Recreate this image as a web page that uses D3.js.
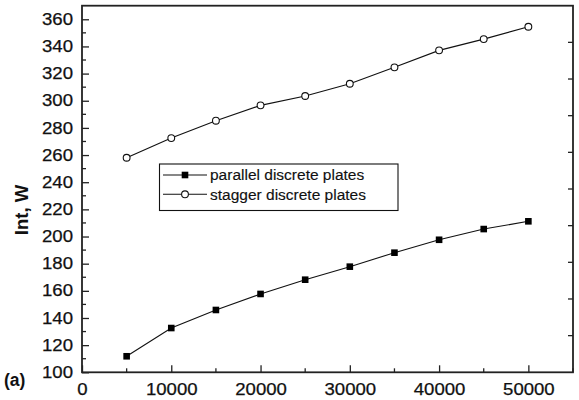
<!DOCTYPE html>
<html>
<head>
<meta charset="utf-8">
<script src="https://cdn.jsdelivr.net/npm/d3@7"></script>
<style>
  html, body { margin: 0; padding: 0; background: #fff; }
  svg { display: block; }
  text { font-family: "Liberation Sans", Arial, Helvetica, sans-serif; fill: #111; }
</style>
</head>
<body>
<svg id="chart" width="579" height="400"></svg>
<script>
// Reynolds-number sweep (x) and the two plate arrangements
const reValues = [5000, 10000, 15000, 20000, 25000, 30000, 35000, 40000, 45000, 50000];
const parallelPlates = [111.8, 132.6, 145.9, 157.7, 168.2, 177.8, 188.1, 197.6, 205.5, 211.2];
const staggerPlates  = [258.0, 272.5, 285.3, 296.6, 303.5, 312.5, 324.6, 337.1, 345.4, 354.5];
const seriesNames = ["parallel discrete plates", "stagger discrete plates"];
const xTickValues = [0, 10000, 20000, 30000, 40000, 50000];
const yTickValues = [100, 120, 140, 160, 180, 200, 220, 240, 260, 280, 300, 320, 340, 360];
const yAxisTitle = "Int, W";
const panelTag = "(a)";

const svg = d3.select("#chart");
const plotL = 82, plotR = 573, plotT = 5.7, plotB = 372.3;

const x = d3.scaleLinear().domain([0, 55000]).range([plotL, plotR]);
const y = d3.scaleLinear().domain([100, 370]).range([plotB, plotT]);

const axisColor = "#222";

// stretch tick glyphs slightly wider
function widen(sel, factor) {
  sel.each(function () {
    const w = this.getComputedTextLength();
    d3.select(this).attr("textLength", w * factor).attr("lengthAdjust", "spacingAndGlyphs");
  });
}

// bottom axis: labelled major ticks, minor ticks in between, all pointing inward
const xMinor = d3.range(5000, 55001, 10000);
const gx = svg.append("g").attr("transform", `translate(0,${plotB})`);
gx.call(d3.axisBottom(x).tickValues(xTickValues).tickSize(-7).tickPadding(11).tickFormat(d3.format("d")));
gx.selectAll(".tick text").attr("font-size", 16).attr("dy", "0.71em");
gx.selectAll(".tick text").call(widen, 1.16);
gx.append("g").selectAll("line").data(xMinor).join("line")
  .attr("x1", d => x(d)).attr("x2", d => x(d)).attr("y1", 0).attr("y2", -4)
  .attr("stroke", axisColor).attr("stroke-width", 1.3);

// left axis
const yMinor = d3.range(110, 370, 20);
const gy = svg.append("g").attr("transform", `translate(${plotL},0)`);
gy.call(d3.axisLeft(y).tickValues(yTickValues).tickSize(-7).tickPadding(9).tickFormat(d3.format("d")));
gy.selectAll(".tick text").attr("font-size", 16);
gy.selectAll(".tick text").call(widen, 1.16);
gy.append("g").selectAll("line").data(yMinor).join("line")
  .attr("x1", 0).attr("x2", 4).attr("y1", d => y(d)).attr("y2", d => y(d))
  .attr("stroke", axisColor).attr("stroke-width", 1.3);

[gx, gy].forEach(g => {
  g.select(".domain").remove();
  g.selectAll(".tick line").attr("stroke", axisColor).attr("stroke-width", 1.3);
  g.selectAll(".tick text").style("fill", "#111").attr("stroke", "#111").attr("stroke-width", 0.25);
});

// right frame ticks: ten equal divisions
const yr = d3.scaleLinear().domain([0, 10]).range([plotB, plotT]);
svg.append("g").selectAll("line").data(d3.range(1, 10)).join("line")
  .attr("x1", plotR).attr("x2", plotR - 5).attr("y1", d => yr(d)).attr("y2", d => yr(d))
  .attr("stroke", axisColor).attr("stroke-width", 1.3);

// plot frame
svg.append("rect").attr("x", plotL).attr("y", plotT)
  .attr("width", plotR - plotL).attr("height", plotB - plotT)
  .attr("fill", "none").attr("stroke", axisColor).attr("stroke-width", 1.8);

// series
const line = d3.line().x((d, i) => x(reValues[i])).y(d => y(d));
svg.append("path").datum(parallelPlates).attr("d", line)
  .attr("fill", "none").attr("stroke", "#111").attr("stroke-width", 1.1);
svg.append("path").datum(staggerPlates).attr("d", line)
  .attr("fill", "none").attr("stroke", "#111").attr("stroke-width", 1.1);

const sq = 6.6;
svg.append("g").selectAll("rect").data(parallelPlates).join("rect")
  .attr("x", (d, i) => x(reValues[i]) - sq / 2).attr("y", d => y(d) - sq / 2)
  .attr("width", sq).attr("height", sq).attr("fill", "#000");
svg.append("g").selectAll("circle").data(staggerPlates).join("circle")
  .attr("cx", (d, i) => x(reValues[i])).attr("cy", d => y(d)).attr("r", 3.4)
  .attr("fill", "#fff").attr("stroke", "#111").attr("stroke-width", 1.1);

// legend
const lg = svg.append("g");
lg.append("rect").attr("x", 159.5).attr("y", 164).attr("width", 238.5).attr("height", 46.5)
  .attr("fill", "#fff").attr("stroke", "#111").attr("stroke-width", 1.1);
const rows = [175, 194.3];
rows.forEach((ry, k) => {
  lg.append("line").attr("x1", 163).attr("x2", 207).attr("y1", ry).attr("y2", ry)
    .attr("stroke", "#111").attr("stroke-width", 1.1);
  if (k === 0) {
    lg.append("rect").attr("x", 185 - sq / 2).attr("y", ry - sq / 2).attr("width", sq).attr("height", sq).attr("fill", "#000");
  } else {
    lg.append("circle").attr("cx", 185).attr("cy", ry).attr("r", 3.4)
      .attr("fill", "#fff").attr("stroke", "#111").attr("stroke-width", 1.1);
  }
  lg.append("text").attr("x", 210).attr("y", ry).attr("dy", "0.35em")
    .attr("font-size", 15.5).attr("stroke", "#111").attr("stroke-width", 0.15).text(seriesNames[k]);
});

// axis title and panel tag
svg.append("text").attr("transform", `translate(28,210) rotate(-90)`)
  .attr("text-anchor", "middle").attr("font-size", 18.5).attr("font-weight", "bold").text(yAxisTitle);
svg.append("text").attr("x", 4).attr("y", 386).attr("font-size", 17.5).attr("font-weight", "bold").text(panelTag);
</script>
</body>
</html>
